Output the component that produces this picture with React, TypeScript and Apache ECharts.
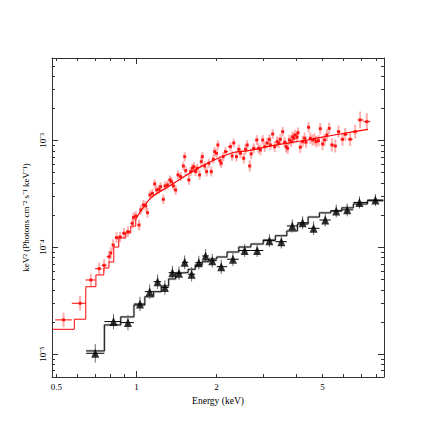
import React, { useEffect, useRef } from "react";
import * as echarts from "echarts";

// ---- axes ----
const xMin = 0.4815;
const xMax = 8.52;
const yMin = 6.1e-6;
const yMax = 5.92e-3;
const xLabelValues = [0.5, 1, 2, 5];
const xMinorTicks = [0.5, 0.6, 0.7, 0.8, 0.9, 2, 3, 4, 5, 6, 7, 8];
const xMajorTicks = [1];
const yMajorTicks = [1e-5, 1e-4, 1e-3];
const yMinorTicks = [
  7e-6, 8e-6, 9e-6,
  2e-5, 3e-5, 4e-5, 5e-5, 6e-5, 7e-5, 8e-5, 9e-5,
  2e-4, 3e-4, 4e-4, 5e-4, 6e-4, 7e-4, 8e-4, 9e-4,
  2e-3, 3e-3, 4e-3, 5e-3,
];

// ---- red spectrum: [energy keV, keV^2 flux, relative error] ----
const redData: number[][] = [
  [0.532, 2.09e-5, 0.17], [0.614, 2.99e-5, 0.17], [0.674, 4.94e-5, 0.15], [0.724, 6.3e-5, 0.14],
  [0.756, 6.78e-5, 0.14], [0.79, 8.17e-5, 0.13], [0.801, 8.84e-5, 0.13], [0.817, 1.05e-4, 0.13],
  [0.842, 1.23e-4, 0.12], [0.868, 1.25e-4, 0.12], [0.898, 1.352e-4, 0.12], [0.929, 1.4e-4, 0.12],
  [0.966, 1.676e-4, 0.12], [0.975, 1.908e-4, 0.11], [0.994, 1.962e-4, 0.11], [1.023, 1.616e-4, 0.12],
  [1.038, 2.24e-4, 0.11], [1.062, 2.495e-4, 0.11], [1.084, 2.44e-4, 0.11], [1.1, 2.11e-4, 0.11],
  [1.124, 3.09e-4, 0.1], [1.148, 3.2e-4, 0.1], [1.171, 3.92e-4, 0.1], [1.191, 3.44e-4, 0.1],
  [1.215, 3.49e-4, 0.1], [1.233, 3.69e-4, 0.1], [1.262, 2.81e-4, 0.11], [1.28, 3.75e-4, 0.1],
  [1.307, 3.84e-4, 0.1], [1.336, 4.27e-4, 0.1], [1.353, 4.12e-4, 0.1], [1.377, 3.75e-4, 0.1],
  [1.404, 3.44e-4, 0.11], [1.433, 4.76e-4, 0.1], [1.466, 4.59e-4, 0.1], [1.501, 5.77e-4, 0.1],
  [1.518, 7.06e-4, 0.1], [1.531, 5.22e-4, 0.1], [1.575, 4.27e-4, 0.11], [1.598, 5.11e-4, 0.1],
  [1.622, 5.5e-4, 0.1], [1.644, 5.69e-4, 0.1], [1.669, 5.11e-4, 0.1], [1.693, 5.5e-4, 0.1],
  [1.727, 4.76e-4, 0.11], [1.753, 6.33e-4, 0.1], [1.768, 7.06e-4, 0.1], [1.803, 5.77e-4, 0.1],
  [1.835, 5.11e-4, 0.11], [1.871, 6.12e-4, 0.1], [1.911, 5.11e-4, 0.11], [1.944, 6.67e-4, 0.1],
  [1.966, 7.86e-4, 0.1], [2.0, 7.58e-4, 0.1], [2.023, 9.08e-4, 0.1], [2.058, 6.47e-4, 0.11],
  [2.083, 6.12e-4, 0.11], [2.119, 7.06e-4, 0.11], [2.161, 7.86e-4, 0.1], [2.256, 8.75e-4, 0.1],
  [2.289, 7.16e-4, 0.11], [2.321, 9.48e-4, 0.1], [2.376, 7.06e-4, 0.11], [2.424, 8.27e-4, 0.11],
  [2.46, 7.59e-4, 0.11], [2.531, 6.82e-4, 0.12], [2.569, 8.27e-4, 0.11], [2.607, 9.08e-4, 0.11],
  [2.666, 5.77e-4, 0.13], [2.698, 7.49e-4, 0.12], [2.76, 8.45e-4, 0.11], [2.835, 1.011e-3, 0.11],
  [2.874, 8.45e-4, 0.12], [2.924, 8.15e-4, 0.12], [2.983, 1.011e-3, 0.11], [3.035, 8.75e-4, 0.12],
  [3.099, 9.48e-4, 0.12], [3.16, 1.026e-3, 0.11], [3.187, 9.08e-4, 0.12], [3.251, 1.15e-3, 0.11],
  [3.307, 8.75e-4, 0.12], [3.377, 9.75e-4, 0.12], [3.424, 9.48e-4, 0.12], [3.475, 1.026e-3, 0.12],
  [3.545, 1.208e-3, 0.11], [3.606, 9.65e-4, 0.12], [3.651, 8.75e-4, 0.13], [3.701, 8.45e-4, 0.13],
  [3.756, 1.011e-3, 0.12], [3.82, 9.75e-4, 0.12], [3.863, 1.085e-3, 0.12], [3.897, 1.049e-3, 0.12],
  [3.954, 1.126e-3, 0.12], [4.013, 1.072e-3, 0.12], [4.048, 1.182e-3, 0.12], [4.129, 8.65e-4, 0.13],
  [4.212, 9.75e-4, 0.13], [4.285, 1.049e-3, 0.13], [4.338, 9.65e-4, 0.13], [4.436, 1.33e-3, 0.12],
  [4.501, 1.049e-3, 0.13], [4.591, 1.011e-3, 0.13], [4.671, 1.026e-3, 0.13], [4.74, 9.75e-4, 0.13],
  [4.835, 9.95e-4, 0.13], [4.907, 1.289e-3, 0.13], [5.006, 9.27e-4, 0.14], [5.093, 1.011e-3, 0.14],
  [5.2, 1.126e-3, 0.14], [5.303, 1.3e-3, 0.13], [5.429, 9.08e-4, 0.15], [5.587, 8.89e-4, 0.15],
  [5.747, 1.208e-3, 0.14], [5.949, 1.026e-3, 0.15], [6.09, 1.142e-3, 0.15], [6.357, 1.026e-3, 0.16],
  [6.638, 1.208e-3, 0.16], [6.93, 1.556e-3, 0.2], [7.344, 1.5e-3, 0.2],
];

// red folded model: low-energy histogram steps (left bin edges) + smooth part
const redStepE = [0.484, 0.584, 0.645, 0.704, 0.754, 0.788, 0.822, 0.858, 0.912, 0.952, 0.994];
const redStepF = [1.706e-5, 2.12e-5, 4.27e-5, 5.51e-5, 6.4e-5, 7.28e-5, 1.006e-4, 1.222e-4, 1.361e-4, 1.58e-4, 1.84e-4];
const redCurveE = [0.994, 1.131, 1.311, 1.505, 1.742, 2.017, 2.315, 2.613, 3.271, 4.386, 5.832, 7.426];
const redCurveF = [1.84e-4, 2.89e-4, 3.67e-4, 4.56e-4, 5.66e-4, 6.79e-4, 7.72e-4, 8.0e-4, 9.0e-4, 1.011e-3, 1.15e-3, 1.272e-3];

// ---- black spectrum ----
const blackE = [0.7, 0.82, 0.929, 1.031, 1.121, 1.201, 1.279, 1.365, 1.445, 1.518, 1.612, 1.716, 1.819, 1.927,
  2.083, 2.305, 2.551, 2.842, 3.16, 3.505, 3.853, 4.212, 4.632, 5.124, 5.635, 6.195, 6.891, 7.909];
const blackF = [1.017e-5, 2.015e-5, 1.971e-5, 2.945e-5, 3.84e-5, 4.76e-5, 4.2e-5, 5.78e-5, 5.71e-5, 7.23e-5,
  5.59e-5, 7.17e-5, 8.29e-5, 7.49e-5, 6.58e-5, 7.73e-5, 9.33e-5, 9.33e-5, 1.153e-4, 1.128e-4, 1.583e-4,
  1.698e-4, 1.506e-4, 1.8e-4, 2.19e-4, 2.24e-4, 2.63e-4, 2.77e-4];
const blackErr = [0.22, 0.18, 0.18, 0.17, 0.17, 0.17, 0.17, 0.16, 0.16, 0.16, 0.17, 0.16, 0.16, 0.16, 0.17,
  0.16, 0.15, 0.15, 0.15, 0.16, 0.15, 0.15, 0.16, 0.15, 0.15, 0.15, 0.14, 0.14];
const blackModel = [1.07e-5, 1.876e-5, 2.23e-5, 2.88e-5, 3.44e-5, 3.84e-5, 4.34e-5, 5.05e-5, 5.75e-5, 5.79e-5,
  6.22e-5, 6.82e-5, 7.33e-5, 7.77e-5, 8.11e-5, 9.03e-5, 1.006e-4, 1.073e-4, 1.17e-4, 1.284e-4, 1.421e-4,
  1.651e-4, 1.92e-4, 2.1e-4, 2.19e-4, 2.34e-4, 2.54e-4, 2.73e-4];

// contiguous bins from geometric mid-points between neighbouring channels
function binEdges(es: number[]): number[] {
  const edges: number[] = [];
  for (let i = 0; i < es.length - 1; i++) edges.push(Math.sqrt(es[i] * es[i + 1]));
  const first = (es[0] * es[0]) / edges[0];
  const last = (es[es.length - 1] * es[es.length - 1]) / edges[edges.length - 1];
  return [first, ...edges, last];
}

const SERIF = "Liberation Serif";
const SUP: Record<string, string> = { "-": "⁻", "0": "⁰", "1": "¹", "2": "²", "3": "³", "4": "⁴", "5": "⁵", "6": "⁶", "7": "⁷", "8": "⁸", "9": "⁹" };
const powLabel = (v: number) => {
  const e = Math.round(Math.log10(v));
  return "10" + String(e).split("").map((c) => SUP[c] || c).join("");
};

export default function App() {
  const ref = useRef<HTMLDivElement>(null);
  useEffect(() => {
    if (!ref.current) return;
    const chart = echarts.init(ref.current, undefined, { renderer: "svg" });

    const redE = redData.map((d) => d[0]);
    const rEdges = binEdges(redE);
    const redErrData = redData.map((d, i) => [d[0], d[1], rEdges[i], rEdges[i + 1], d[2]]);
    const bEdges = binEdges(blackE);
    const blackErrData = blackE.map((e, i) => [e, blackF[i], bEdges[i], bEdges[i + 1], blackErr[i]]);
    const blackStep = blackModel.map((v, i) => [bEdges[i], v]);
    blackStep.push([bEdges[bEdges.length - 1], blackModel[blackModel.length - 1]]);

    const errRender = (vColor: string, vWidth: number, hColor: string) => (params: any, api: any) => {
      const e = api.value(0), f = api.value(1), lo = api.value(2), hi = api.value(3), df = api.value(4);
      const pT = api.coord([e, f * (1 + df)]);
      const pB = api.coord([e, f / (1 + df)]);
      const pL = api.coord([lo, f]);
      const pR = api.coord([hi, f]);
      return {
        type: "group",
        children: [
          { type: "line", shape: { x1: pT[0], y1: pT[1], x2: pB[0], y2: pB[1] }, style: { stroke: vColor, lineWidth: vWidth } },
          { type: "line", shape: { x1: pL[0], y1: pL[1], x2: pR[0], y2: pR[1] }, style: { stroke: hColor, lineWidth: 1 } },
        ],
      };
    };

    const axisColor = "#333";
    const baseX = (position: string, ticks: number[], len: number, withLabel: boolean, showLine: boolean) => ({
      type: "log",
      logBase: 10,
      min: xMin,
      max: xMax,
      position,
      axisLine: { show: showLine, lineStyle: { color: axisColor, width: 1 } },
      axisTick: { show: true, inside: true, length: len, customValues: ticks, lineStyle: { color: axisColor, width: 1 } },
      axisLabel: withLabel
        ? { show: true, customValues: xLabelValues, margin: 5, fontFamily: SERIF, fontSize: 9, color: "#000", formatter: (v: number) => String(v) }
        : { show: false },
      splitLine: { show: false },
      minorTick: { show: false },
    });
    const baseY = (position: string, ticks: number[], len: number, withLabel: boolean, showLine: boolean) => ({
      type: "log",
      logBase: 10,
      min: yMin,
      max: yMax,
      position,
      axisLine: { show: showLine, lineStyle: { color: axisColor, width: 1 } },
      axisTick: { show: true, inside: true, length: len, customValues: ticks, lineStyle: { color: axisColor, width: 1 } },
      axisLabel: withLabel
        ? { show: true, customValues: yMajorTicks, rotate: 90, margin: 5, fontFamily: SERIF, fontSize: 9, color: "#000", formatter: powLabel }
        : { show: false },
      splitLine: { show: false },
      minorTick: { show: false },
    });

    const option: any = {
      animation: false,
      backgroundColor: "#ffffff",
      grid: { left: 52, right: 52, top: 58, bottom: 59, containLabel: false },
      xAxis: [
        {
          ...baseX("bottom", xMinorTicks, 3, true, true),
          name: "Energy (keV)",
          nameLocation: "middle",
          nameGap: 18,
          nameTextStyle: { fontFamily: SERIF, fontSize: 9.5, color: "#000" },
        },
        baseX("bottom", xMajorTicks, 6, false, false),
        baseX("top", xMinorTicks, 3, false, true),
        baseX("top", xMajorTicks, 6, false, false),
      ],
      yAxis: [
        {
          ...baseY("left", yMinorTicks, 3, true, true),
          name: "keV² (Photons cm⁻² s⁻¹ keV⁻¹)",
          nameLocation: "middle",
          nameGap: 20,
          nameTextStyle: { fontFamily: SERIF, fontSize: 9, color: "#000" },
        },
        baseY("left", yMajorTicks, 6, false, false),
        baseY("right", yMinorTicks, 3, false, true),
        baseY("right", yMajorTicks, 6, false, false),
      ],
      series: [
        {
          type: "custom",
          name: "red errors",
          data: redErrData,
          encode: { x: 0, y: 1 },
          renderItem: errRender("rgba(255,40,40,0.38)", 2, "#ff0000"),
          z: 2,
          silent: true,
        },
        {
          type: "line",
          name: "red model steps",
          data: redStepE.map((e, i) => [e, redStepF[i]]),
          step: "end",
          showSymbol: false,
          lineStyle: { color: "#ff0000", width: 1 },
          z: 3,
          silent: true,
        },
        {
          type: "line",
          name: "red model",
          data: redCurveE.map((e, i) => [e, redCurveF[i]]),
          smooth: 0.3,
          showSymbol: false,
          lineStyle: { color: "#ff0000", width: 1.2 },
          z: 3,
          silent: true,
        },
        {
          type: "line",
          name: "black model band",
          data: blackStep,
          step: "end",
          showSymbol: false,
          lineStyle: { color: "#c4c4c4", width: 2.5 },
          z: 2,
          silent: true,
        },
        {
          type: "line",
          name: "black model",
          data: blackStep,
          step: "end",
          showSymbol: false,
          lineStyle: { color: "#000000", width: 0.9 },
          z: 3,
          silent: true,
        },
        {
          type: "custom",
          name: "black errors",
          data: blackErrData,
          encode: { x: 0, y: 1 },
          renderItem: errRender("#6a6a6a", 1, "#000000"),
          z: 4,
          silent: true,
        },
        {
          type: "scatter",
          name: "red data",
          data: redData.map((d) => [d[0], d[1]]),
          symbol: "rect",
          symbolSize: 3,
          itemStyle: { color: "#ff0000" },
          z: 5,
          silent: true,
        },
        {
          type: "scatter",
          name: "black data",
          data: blackE.map((e, i) => [e, blackF[i]]),
          symbol: "triangle",
          symbolSize: [8, 9],
          itemStyle: { color: "#000000" },
          z: 6,
          silent: true,
        },
      ],
    };
    chart.setOption(option);
    return () => chart.dispose();
  }, []);

  return (
    <div
      ref={ref}
      style={{ position: "fixed", left: 0, top: 0, width: 436, height: 436, background: "#fff" }}
    />
  );
}
